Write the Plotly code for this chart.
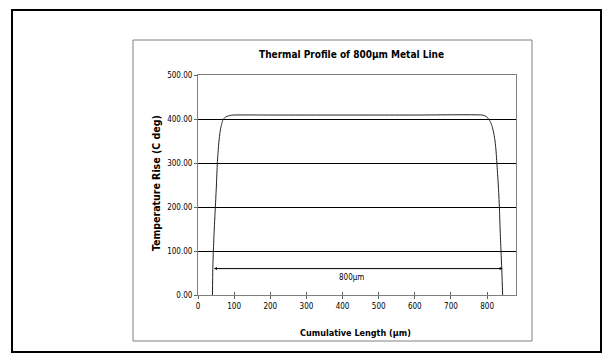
import plotly.graph_objects as go

# ---- data ----
length_um = [40, 41, 42.5, 45, 48, 51, 53.5, 56, 58, 61, 63, 66, 69, 74, 80, 88, 97,
             200, 400, 600, 786, 795, 800, 806, 811, 815, 819, 822, 825, 827, 831,
             834, 836, 838.5, 841, 843]
temp_rise = [0, 60, 100, 150, 200, 250, 300, 330, 350, 370, 380, 390, 398, 403, 406, 408, 409,
             409, 409, 409, 409, 407, 404, 398, 390, 380, 365, 350, 325, 300, 250,
             200, 150, 100, 50, 0]
x_ticks = [0, 100, 200, 300, 400, 500, 600, 700, 800]
y_ticks = [0, 100, 200, 300, 400, 500]
dim_start, dim_end, dim_level = 40, 843, 60
dim_label = "800µm"
dim_label_x = 426

FONT = "DejaVu Sans Condensed, Liberation Sans Narrow, Arial Narrow, Liberation Sans, sans-serif"
OFF = 8  # page body margin
W, H = 613 - OFF, 362 - OFF
L, R, T, B = 198 - OFF, 516 - OFF, 75 - OFF, 295 - OFF


def px(xp):
    return (xp - OFF - L) / (R - L)


def py(yp):
    return (B - (yp - OFF)) / (B - T)


fig = go.Figure()
fig.add_trace(go.Scatter(x=length_um, y=temp_rise, mode="lines",
                         line=dict(color="#222222", width=1, shape="spline", smoothing=0.6),
                         hoverinfo="skip", showlegend=False))
# invisible trace on the second x-axis so its inward ticks are drawn
fig.add_trace(go.Scatter(x=[0], y=[0], xaxis="x2", mode="markers",
                         marker=dict(opacity=0), hoverinfo="skip", showlegend=False))

shapes = [
    dict(type="rect", xref="paper", yref="paper", x0=px(12), x1=px(601), y0=py(352), y1=py(10),
         line=dict(color="black", width=2), layer="below"),
    dict(type="rect", xref="paper", yref="paper", x0=px(133), x1=px(532), y0=py(341), y1=py(40),
         line=dict(color="#808080", width=1), layer="below"),
]

annotations = [
    dict(text="<b>Thermal Profile of 800µm Metal Line</b>", xref="paper", yref="paper",
         x=px(351), y=py(54), showarrow=False, font=dict(size=10, family=FONT, color="black"),
         xanchor="center", yanchor="middle"),
    dict(text="<b>Temperature Rise (C deg)</b>", xref="paper", yref="paper",
         x=px(156), y=py(183), showarrow=False, textangle=-90,
         font=dict(size=10.5, family=FONT, color="black"), xanchor="center", yanchor="middle"),
    dict(text="<b>Cumulative Length (µm)</b>", xref="paper", yref="paper",
         x=px(355), y=py(333), showarrow=False,
         font=dict(size=9, family=FONT, color="black"), xanchor="center", yanchor="middle"),
    dict(x=dim_end, y=dim_level, ax=dim_start, ay=dim_level, xref="x", yref="y",
         axref="x", ayref="y", text="", showarrow=True, arrowhead=2, arrowside="end+start",
         arrowsize=0.6, arrowwidth=1, arrowcolor="black", standoff=0, startstandoff=0),
    dict(x=dim_label_x, y=dim_level, xref="x", yref="y", text=dim_label,
         showarrow=False, yshift=-9, font=dict(size=8, family=FONT, color="black")),
]

fig.update_layout(
    width=W, height=H,
    margin=dict(l=L, r=W - R, t=T, b=H - B, pad=0),
    paper_bgcolor="white", plot_bgcolor="white",
    showlegend=False,
    shapes=shapes,
    annotations=annotations,
    xaxis=dict(range=[0, 880], tickvals=x_ticks, ticktext=[str(v) for v in x_ticks],
               showgrid=False, zeroline=False, showline=True, linecolor="#808080",
               linewidth=1, mirror=True, ticks="outside", ticklen=3, tickcolor="#606060",
               tickfont=dict(size=8, family=FONT, color="black")),
    xaxis2=dict(range=[0, 880], tickvals=x_ticks, showticklabels=False, overlaying="x",
                side="bottom", anchor="y", showgrid=False, zeroline=False, showline=False,
                ticks="inside", ticklen=3, tickcolor="#606060"),
    yaxis=dict(range=[0, 500], tickvals=y_ticks, tickformat=".2f",
               showgrid=True, gridcolor="black", gridwidth=1, zeroline=False,
               showline=True, linecolor="#808080", linewidth=1, mirror=True,
               ticks="outside", ticklen=3, tickcolor="#606060",
               tickfont=dict(size=8, family=FONT, color="black")),
)

fig.write_html("out.html")
